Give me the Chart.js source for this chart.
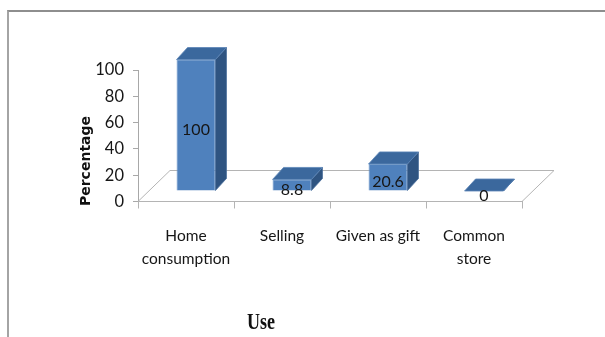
<!DOCTYPE html>
<html>
<head>
<meta charset="utf-8">
<script src="https://cdn.jsdelivr.net/npm/chart.js"></script>
<style>
  html, body { margin: 0; padding: 0; background: #fff; }
  #wrap { position: relative; width: 605px; height: 337px; overflow: hidden; }
  #frame {
    position: absolute; left: 7px; top: 10px; width: 700px; height: 400px;
    border-top: 2px solid #8e8e8e; border-left: 2px solid #a4a4a4;
  }
  canvas { position: absolute; left: 0; top: 0; }
</style>
</head>
<body>
<div id="wrap">
  <div id="frame"></div>
  <canvas id="useChart" width="605" height="337"></canvas>
</div>
<script>
// uses of the produce and their share in percent
var useLabels = [["Home", "consumption"], ["Selling"], ["Given as gift"], ["Common", "store"]];
var usePercent = [100, 8.8, 20.6, 0];
var yTicks = [0, 20, 40, 60, 80, 100];

var SANS = "Lato, 'Open Sans', sans-serif";

// 3d look: bars sit half way into the floor, boxes have a small depth
var FLOOR = { dx: 32, dy: -31 };
var SHIFT = { dx: 10, dy: -10.5 };
var DEPTH = { dx: 11, dy: -12 };

function poly(ctx, pts, fill, stroke) {
	ctx.beginPath();
	ctx.moveTo(pts[0][0], pts[0][1]);
	for (var i = 1; i < pts.length; i++) ctx.lineTo(pts[i][0], pts[i][1]);
	ctx.closePath();
	if (fill) {
		ctx.fillStyle = fill;
		ctx.fill();
	}
	if (stroke) {
		ctx.strokeStyle = stroke;
		ctx.stroke();
	}
}

var box3d = {
	id: "box3d",
	beforeDatasetsDraw: function (chart) {
		// floor plane behind the bars
		var ctx = chart.ctx;
		var a = chart.chartArea;
		var y0 = chart.scales.y.getPixelForValue(0);
		ctx.save();
		ctx.lineWidth = 1;
		poly(ctx, [
			[a.left, y0],
			[a.right, y0],
			[a.right + FLOOR.dx, y0 + FLOOR.dy],
			[a.left + FLOOR.dx, y0 + FLOOR.dy]
		], null, "#b4b4b4");
		ctx.restore();
	},
	beforeDatasetDraw: function (chart) {
		chart.ctx.save();
		chart.ctx.translate(SHIFT.dx, SHIFT.dy);
	},
	afterDatasetDraw: function (chart, args) {
		var ctx = chart.ctx;
		var meta = chart.getDatasetMeta(args.index);
		ctx.lineWidth = 0.8;
		meta.data.forEach(function (bar) {
			var p = bar.getProps(["x", "y", "base", "width"], true);
			var l = p.x - p.width / 2, r = p.x + p.width / 2;
			var t = Math.min(p.y, p.base), b = Math.max(p.y, p.base);
			// side face
			poly(ctx, [[r, t], [r + DEPTH.dx, t + DEPTH.dy], [r + DEPTH.dx, b + DEPTH.dy], [r, b]], "#2f5481", "#4a6f9c");
			// top face
			poly(ctx, [[l, t], [l + DEPTH.dx, t + DEPTH.dy], [r + DEPTH.dx, t + DEPTH.dy], [r, t]], "#3b689d", "#5a84b6");
		});
		ctx.restore();
	},
	afterDatasetsDraw: function (chart) {
		var ctx = chart.ctx;
		var meta = chart.getDatasetMeta(0);
		ctx.save();
		ctx.font = "16px " + SANS;
		ctx.fillStyle = "#161616";
		ctx.textAlign = "center";
		ctx.textBaseline = "middle";
		meta.data.forEach(function (bar, i) {
			var p = bar.getProps(["x", "y", "base"], true);
			ctx.fillText(String(usePercent[i]), p.x + SHIFT.dx, (p.y + p.base) / 2 + SHIFT.dy + 5);
		});
		ctx.restore();
	},
	afterDraw: function (chart) {
		var ctx = chart.ctx;
		ctx.save();
		ctx.fillStyle = "#111";
		ctx.textAlign = "center";
		ctx.textBaseline = "middle";
		// value axis title
		ctx.save();
		ctx.translate(86, 161);
		ctx.rotate(-Math.PI / 2);
		ctx.font = "bold 14px 'DejaVu Sans', sans-serif";
		ctx.fillText("Percentage", 0, 0);
		ctx.restore();
		// category axis title, drawn tall
		ctx.translate(261, 323);
		ctx.scale(1, 1.3);
		ctx.font = "bold 18px 'Liberation Serif', 'DejaVu Serif', serif";
		ctx.fillText("Use", 0, 0);
		ctx.restore();
	}
};

var ctx = document.getElementById("useChart").getContext("2d");
var chart = new Chart(ctx, {
	type: "bar",
	data: {
		labels: useLabels,
		datasets: [
			{
				data: usePercent,
				backgroundColor: "#4f81bd",
				borderColor: "#6d98cc",
				borderWidth: 0.8,
				categoryPercentage: 1,
				barPercentage: 0.405
			}
		]
	},
	options: {
		responsive: false,
		animation: false,
		events: [],
		layout: {
			padding: { left: 70, top: 70, right: 83, bottom: 0 }
		},
		scales: {
			x: {
				offset: true,
				border: { display: true, color: "#b4b4b4" },
				grid: {
					offset: true,
					drawOnChartArea: false,
					tickLength: 7,
					color: "#b4b4b4"
				},
				ticks: {
					color: "#161616",
					padding: 16,
					maxRotation: 0,
					autoSkip: false,
					font: { family: SANS, size: 15.5, lineHeight: 1.5 }
				},
				afterFit: function (scale) {
					scale.height = 135.5;
				}
			},
			y: {
				min: 0,
				max: 100,
				border: { display: true, color: "#a8a8a8" },
				grid: {
					drawOnChartArea: false,
					tickLength: 5,
					color: "#a8a8a8"
				},
				ticks: {
					color: "#161616",
					padding: 9,
					font: { family: SANS, size: 16.5 }
				},
				afterBuildTicks: function (scale) {
					scale.ticks = yTicks.map(function (v) {
						return { value: v };
					});
				},
				afterFit: function (scale) {
					scale.width = 68;
				}
			}
		},
		plugins: {
			legend: { display: false },
			tooltip: { enabled: false }
		}
	},
	plugins: [box3d]
});
</script>
</body>
</html>
